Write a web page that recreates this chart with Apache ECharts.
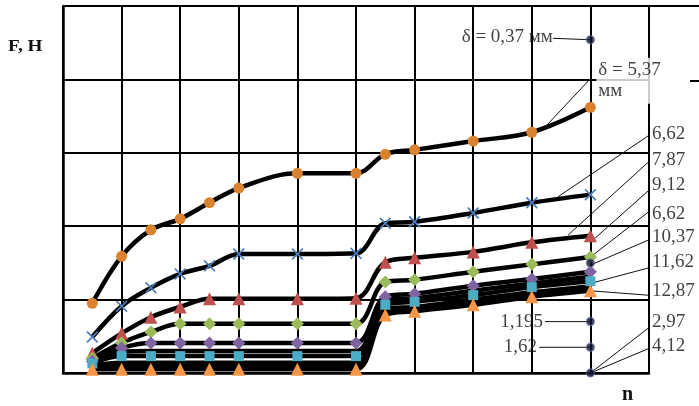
<!DOCTYPE html>
<html><head><meta charset="utf-8">
<script src="https://cdn.jsdelivr.net/npm/echarts@6/dist/echarts.min.js"></script>
<style>html,body{margin:0;padding:0;background:#fff}#c{width:699px;height:406px}</style>
</head><body><div id="c"></div>
<script>
// ---- data (y in grid units, x = n) ----
const xs = [1, 2, 3, 4, 5, 6, 8, 10, 11, 12, 14, 16, 18];
const s537 = [0.95, 1.59, 1.95, 2.10, 2.32, 2.52, 2.72, 2.72, 2.98, 3.04, 3.16, 3.28, 3.62];
const s662 = [0.49, 0.91, 1.16, 1.35, 1.46, 1.62, 1.62, 1.63, 2.04, 2.06, 2.18, 2.32, 2.43];
const s787 = [0.27, 0.54, 0.76, 0.90, 1.01, 1.01, 1.01, 1.02, 1.51, 1.57, 1.65, 1.78, 1.87];
const s912 = [0.20, 0.41, 0.56, 0.67, 0.67, 0.67, 0.67, 0.67, 1.24, 1.27, 1.38, 1.48, 1.58];
const s662b = [0.16, 0.34, 0.41, 0.41, 0.41, 0.41, 0.41, 0.41, 1.04, 1.08, 1.19, 1.28, 1.38];
const s1037 = [0.13, 0.23, 0.23, 0.23, 0.23, 0.23, 0.23, 0.23, 0.93, 0.97, 1.06, 1.17, 1.25];
const s1287 = [0.05, 0.05, 0.05, 0.05, 0.05, 0.05, 0.05, 0.05, 0.79, 0.84, 0.93, 1.04, 1.12];
const plainA = [0.14, 0.29, 0.30, 0.30, 0.30, 0.30, 0.30, 0.30, 0.99, 1.02, 1.12, 1.22, 1.31];
const plainB = [0.10, 0.14, 0.14, 0.14, 0.14, 0.14, 0.14, 0.14, 0.87, 0.90, 1.00, 1.10, 1.18];
const plainC = [0.07, 0.09, 0.09, 0.09, 0.09, 0.09, 0.09, 0.09, 0.83, 0.87, 0.96, 1.07, 1.15];
const darkX = [18, 18, 18, 18, 18];
const darkY = [4.54, 1.50, 0.70, 0.35, 0.00];

// annotation texts and where they sit (data units)
const annText = ['δ = 0,37 мм', 'δ = 5,37\nмм', '6,62', '7,87', '9,12', '6,62', '10,37', '11,62', '12,87', '1,195', '1,62', '2,97', '4,12'];
const annAt = [[16.72, 4.58], [18.2, 3.98], [20.1, 3.26], [20.1, 2.90], [20.1, 2.56], [20.1, 2.17], [20.1, 1.85], [20.1, 1.51], [20.1, 1.12], [16.38, 0.69], [16.18, 0.35], [20.1, 0.69], [20.1, 0.37]];
const annSide = ['left', 'right', 'right', 'right', 'right', 'right', 'right', 'right', 'right', 'left', 'left', 'right', 'right'];
const leaderFrom = [[16.72, 4.56], [18.0, 4.01], [19.97, 3.23], [19.97, 2.87], [19.97, 2.48], [19.97, 2.19], [19.97, 1.81], [19.97, 1.43], [19.97, 1.06], [16.45, 0.70], [16.25, 0.35], [19.97, 0.61], [19.97, 0.33]];
const leaderTo = [[18, 4.54], [16.45, 3.35], [16.89, 2.40], [17.24, 1.88], [18.0, 1.78], [18.0, 1.58], [18.0, 1.47], [18.0, 1.22], [18.0, 1.12], [18, 0.70], [18, 0.35], [18, 0], [18, 0]];

const X_PATH = 'path://M1,0L5,4L9,0L10,1L6,5L10,9L9,10L5,6L1,10L0,9L4,5L0,1Z';
const curves = [
  { data: s537, color: '#DA8230', symbol: 'circle', size: 11 },
  { data: s662, color: '#4A7EBB', symbol: X_PATH, size: 12 },
  { data: s787, color: '#C0504D', symbol: 'triangle', size: 13 },
  { data: s912, color: '#9BBB59', symbol: 'diamond', size: 13 },
  { data: s662b, color: '#8064A2', symbol: 'diamond', size: 13 },
  { data: s1037, color: '#4BACC6', symbol: 'rect', size: 10 },
  { data: s1287, color: '#F79646', symbol: 'triangle', size: 13 }
];
const plains = [plainA, plainB, plainC];

const pair = (arr) => xs.map((x, i) => [x, arr[i]]);
const series = [];
const lineStyleBlack = { color: '#000', width: 4.5 };

plains.forEach(p => series.push({
  type: 'line', data: pair(p), smooth: 0.35, symbol: 'none', z: 2,
  lineStyle: lineStyleBlack, silent: true
}));
curves.forEach(c => series.push({
  type: 'line', data: pair(c.data), smooth: 0.35, symbol: 'none', z: 2,
  lineStyle: lineStyleBlack, silent: true
}));
curves.forEach(c => series.push({
  type: 'scatter', data: pair(c.data), symbol: c.symbol, symbolSize: c.size, z: 5,
  itemStyle: { color: c.color, opacity: 1 }, silent: true
}));
// leader lines
leaderFrom.forEach((f, i) => series.push({
  type: 'line', data: [f, leaderTo[i]], symbol: 'none', clip: false, z: 4, silent: true,
  lineStyle: { color: '#111', width: 1 }
}));
// dark single points
series.push({
  type: 'scatter', data: darkX.map((x, i) => [x, darkY[i]]), symbol: 'circle', symbolSize: 8, z: 6, clip: false,
  itemStyle: { color: '#10142e', borderColor: 'rgba(110,120,170,0.7)', borderWidth: 1.5 }, silent: true
});
// annotation texts
series.push({
  type: 'scatter', symbolSize: 0, clip: false, z: 7, silent: true,
  data: annText.map((t, i) => ({
    value: annAt[i], name: t,
    label: {
      show: true, formatter: t, position: annSide[i], distance: 0,
      align: annSide[i] === 'left' ? 'right' : 'left', verticalAlign: 'middle',
      fontFamily: 'Liberation Serif', fontSize: 19, color: '#111', lineHeight: 21,
      backgroundColor: i === 1 ? '#fff' : 'transparent', padding: i === 1 ? [2, 2] : 0
    }
  }))
});

const chart = echarts.init(document.getElementById('c'), null, { renderer: 'canvas' });
chart.setOption({
  animation: false,
  backgroundColor: '#fff',
  grid: { left: 63, right: 50, top: 6, bottom: 33 },
  xAxis: {
    type: 'value', min: 0, max: 20, interval: 2,
    axisLine: { show: true, lineStyle: { color: '#000', width: 2.5 } },
    axisTick: { show: false }, axisLabel: { show: false },
    splitLine: { show: true, lineStyle: { color: '#000', width: 2 } }
  },
  yAxis: {
    type: 'value', min: 0, max: 5, interval: 1,
    axisLine: { show: true, lineStyle: { color: '#000', width: 2.5 } },
    axisTick: { show: false }, axisLabel: { show: false },
    splitLine: { show: true, lineStyle: { color: '#000', width: 2 } }
  },
  graphic: [
    { type: 'text', x: 8, y: 39, scaleX: 1.2, style: { text: 'F, H', font: 'bold 16px "Liberation Serif"', fill: '#111' } },
    { type: 'text', x: 622, y: 385, style: { text: 'n', font: 'bold 20px "Liberation Serif"', fill: '#111' } },
    { type: 'line', shape: { x1: 649, y1: 6, x2: 699, y2: 6 }, style: { stroke: '#000', lineWidth: 2 } },
    { type: 'line', shape: { x1: 690, y1: 81, x2: 699, y2: 81 }, style: { stroke: '#000', lineWidth: 2 } }
  ],
  series: series
});
</script>
</body></html>
